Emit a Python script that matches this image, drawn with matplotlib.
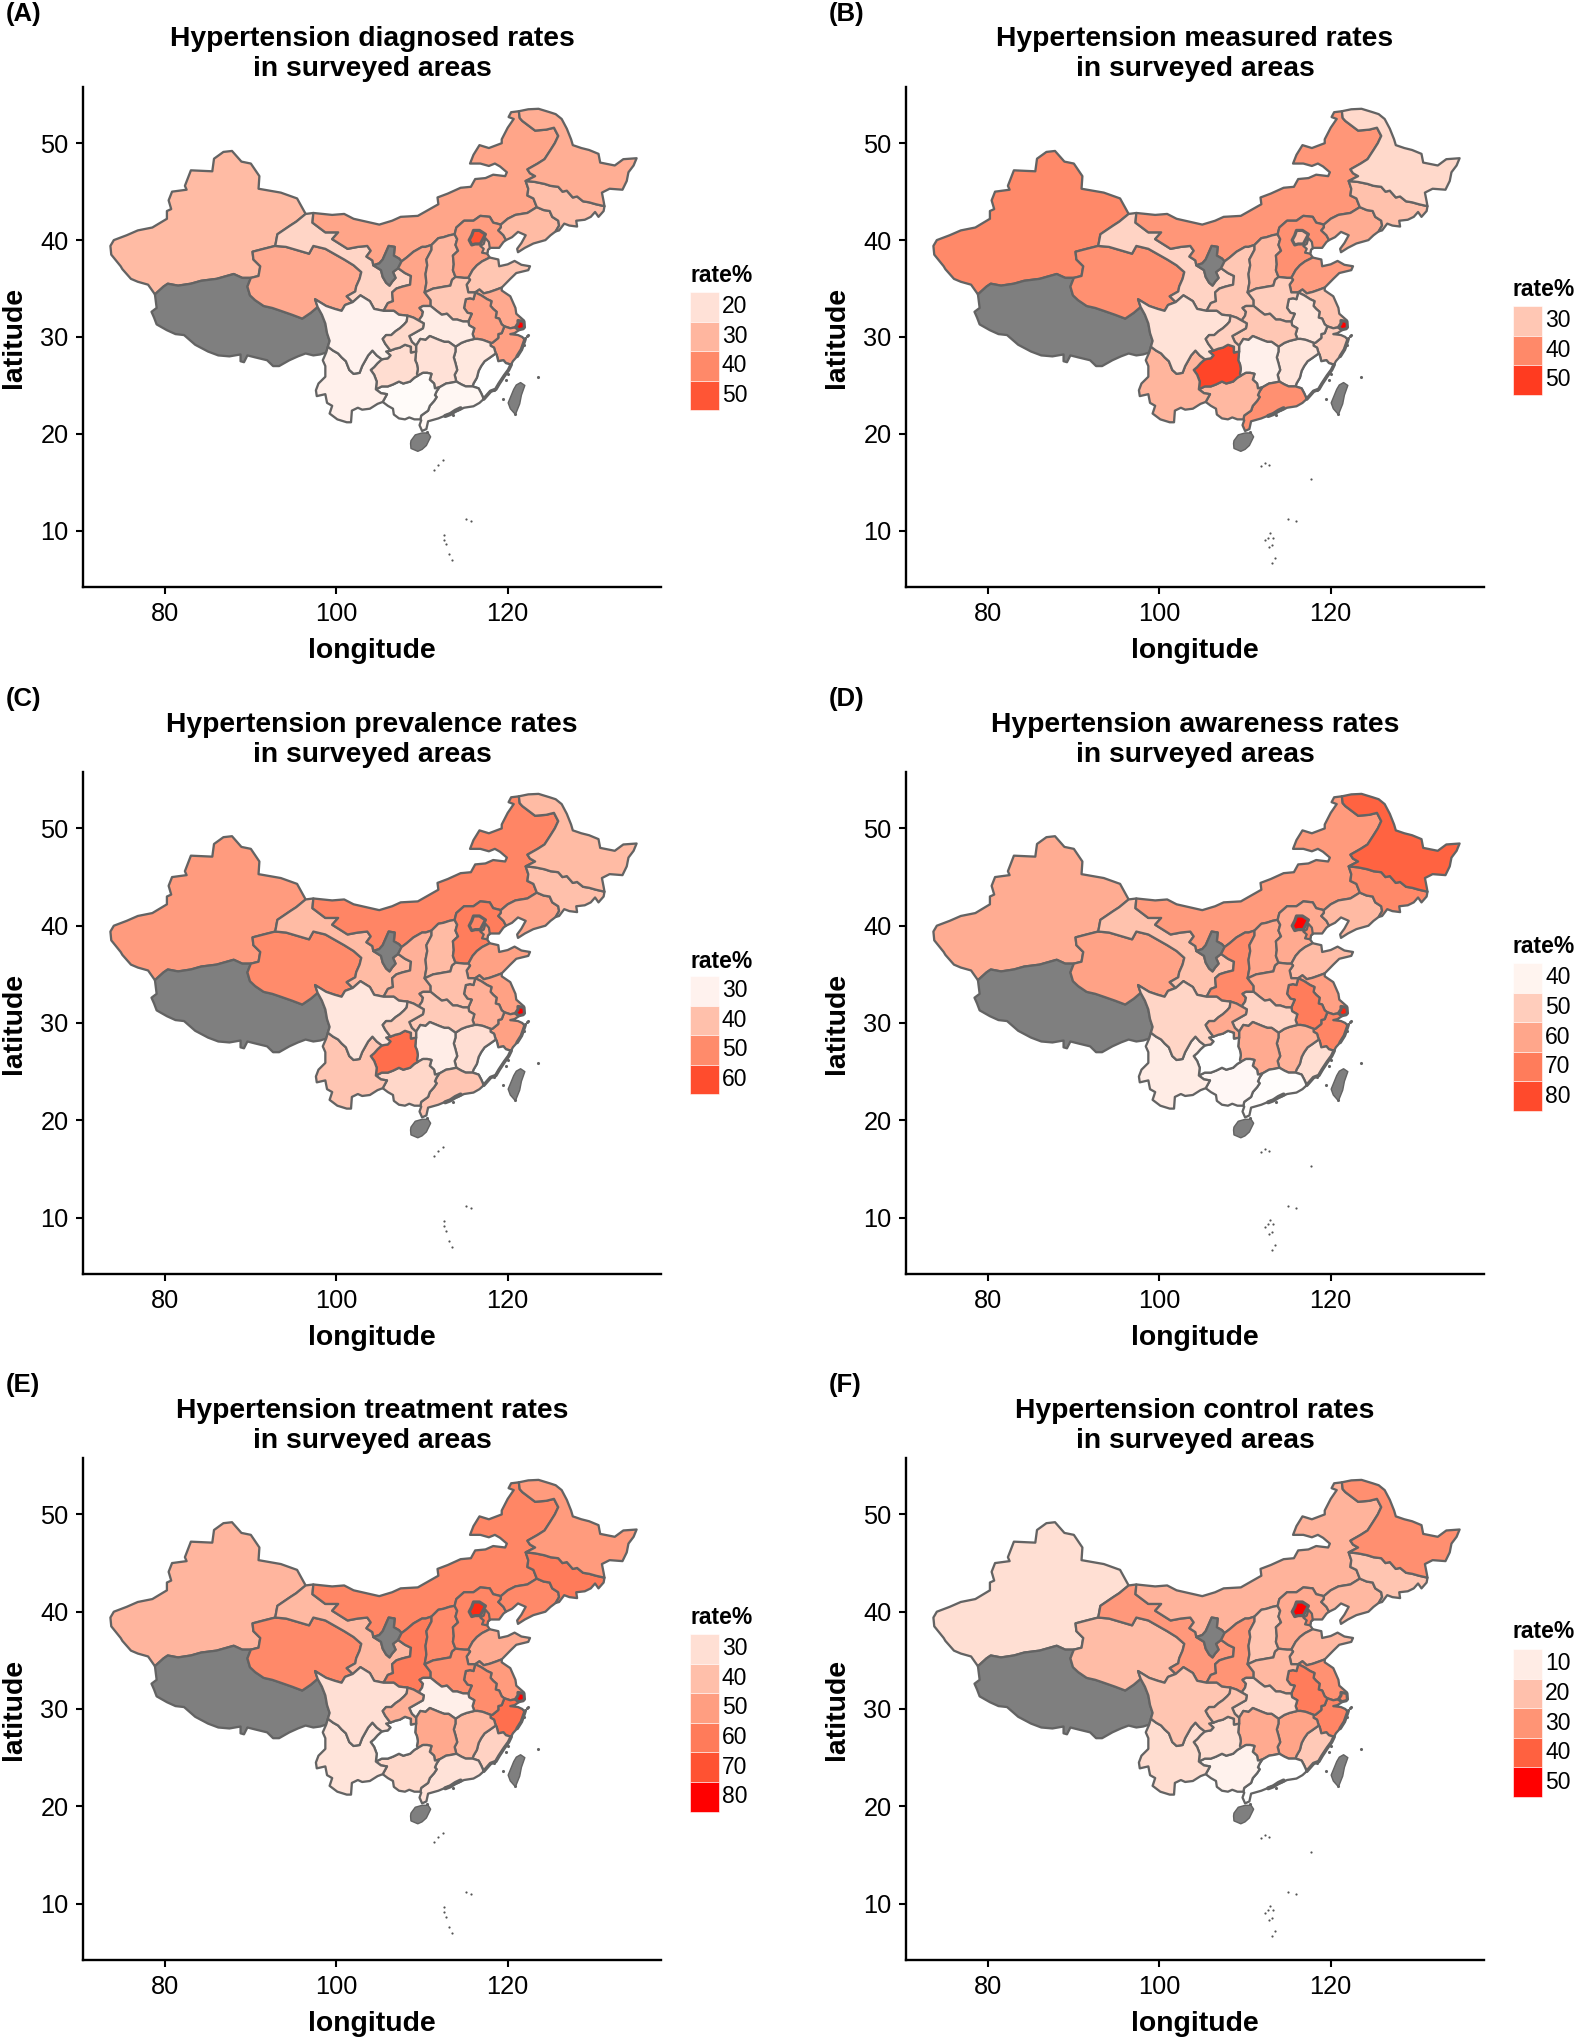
import numpy as np
import matplotlib
matplotlib.use("Agg")
import matplotlib.pyplot as plt
from matplotlib.patches import Polygon, Rectangle

plt.rcParams['font.family'] = ['Liberation Sans', 'DejaVu Sans']

W, H = 1575, 2039
NA = np.nan

# ---------------- map outline data (lon, lat), shared border chains ----------------
CHAINS = {
 'xj_out': [(78.8,34.4),(78.0,35.4),(76.8,35.7),(76.0,36.0),(75.0,37.0),(74.8,37.3),(73.7,38.5),(73.6,39.4),(74.0,40.0),(75.5,40.5),(76.8,41.0),(78.5,41.3),(80.2,42.2),(80.2,43.0),(80.7,43.2),(80.4,44.1),(80.8,45.0),(82.5,45.2),(82.3,45.6),(83.0,47.2),(85.5,47.1),(85.7,48.4),(86.8,49.1),(87.8,49.2),(88.9,48.1),(90.0,47.9),(91.0,46.6),(90.9,45.3),(93.5,44.9),(95.4,44.3),(96.4,42.7)],
 'gs_mn': [(96.4,42.7),(97.3,42.8)],
 'nm_out': [(97.3,42.8),(99.5,42.6),(100.9,42.7),(102.0,42.2),(103.5,41.9),(105.0,41.6),(106.5,42.0),(107.5,42.4),(109.5,42.5),(110.5,43.0),(111.5,43.5),(111.9,43.7),(111.8,44.4),(113.0,44.8),(114.5,45.4),(115.7,45.5),(116.2,46.3),(117.4,46.4),(118.3,46.75),(119.7,46.6),(119.9,47.0),(119.1,47.6),(118.5,47.9),(117.8,47.65),(116.8,47.9),(115.6,47.9),(116.0,48.8),(116.7,49.8),(117.8,49.5),(119.3,50.0),(119.3,50.4),(120.0,51.6),(120.7,52.5),(120.1,52.7),(120.4,53.2),(121.3,53.3)],
 'hl_out': [(121.3,53.3),(122.4,53.5),(123.6,53.55),(124.9,53.2),(125.6,53.0),(126.3,52.5),(126.9,51.5),(127.4,50.4),(127.6,49.8),(128.6,49.5),(129.5,49.3),(130.6,48.9),(130.8,48.0),(132.5,47.7),(133.5,48.35),(135.05,48.45),(134.7,47.7),(134.1,47.0),(133.9,46.1),(133.4,45.2),(131.9,45.3),(131.0,44.9),(131.2,44.0),(131.3,43.5)],
 'jl_out': [(131.3,43.5),(131.2,43.0),(130.6,42.4),(130.2,42.9),(129.7,42.4),(129.0,42.1),(128.0,42.0),(128.1,41.4),(127.2,41.5),(126.6,41.7),(126.0,41.0),(125.6,40.9)],
 'ln_out': [(125.6,40.9),(125.0,40.5),(124.4,40.0),(123.0,39.65),(122.0,39.2),(121.2,38.75),(121.1,39.1),(121.6,39.7),(122.1,40.5),(121.2,40.85),(120.5,40.3),(119.8,40.0)],
 'he_out': [(119.8,40.0),(119.5,39.8),(119.0,39.2),(118.0,39.2),(117.7,39.0),(117.6,38.6),(117.9,38.2)],
 'sd_out': [(117.9,38.2),(118.9,38.0),(119.0,37.3),(120.0,37.5),(120.8,37.85),(121.6,37.45),(122.6,37.3),(122.4,36.9),(121.0,36.6),(120.3,36.0),(119.3,35.1)],
 'js_out': [(119.3,35.1),(119.3,34.8),(120.3,34.2),(120.9,33.0),(121.0,32.4),(121.9,31.7),(121.3,31.3),(120.9,31.0)],
 'js_zj': [(120.9,31.0),(120.3,30.9),(119.6,31.1)],
 'zj_out': [(120.9,31.0),(121.3,30.7),(120.8,30.4),(120.3,30.3),(121.2,30.2),(121.7,30.0),(122.0,29.7),(121.6,28.7),(121.1,28.0),(120.6,27.5),(120.4,27.15)],
 'fj_out': [(120.4,27.15),(120.1,26.6),(119.6,26.0),(119.0,25.2),(118.6,24.6),(118.0,24.4),(117.2,23.6)],
 'gd_out': [(117.2,23.6),(116.7,23.2),(116.0,22.85),(114.9,22.7),(114.2,22.4),(113.6,22.2),(113.0,22.0),(111.9,21.6),(110.7,21.3),(110.5,20.5),(110.0,20.3),(109.7,20.9),(109.9,21.4),(109.8,21.5)],
 'gx_out': [(109.8,21.5),(109.1,21.5),(108.5,21.7),(108.0,21.5),(107.3,21.6),(106.7,22.0),(106.6,22.6),(106.0,22.9),(105.4,23.3)],
 'yn_out': [(98.8,28.4),(98.4,27.6),(98.7,27.0),(98.7,25.9),(97.9,25.2),(97.6,24.5),(97.7,23.9),(98.7,24.1),(98.9,23.2),(99.5,22.9),(99.2,22.1),(100.1,21.5),(101.2,21.2),(101.7,21.2),(101.8,22.4),(102.5,22.7),(103.0,22.5),(103.9,22.6),(104.8,23.1),(105.4,23.3)],
 'xz_out': [(98.8,28.4),(98.1,28.2),(97.3,28.1),(96.4,28.3),(95.5,28.0),(94.5,27.6),(93.3,27.0),(92.6,27.0),(91.9,27.6),(90.5,27.9),(89.6,28.1),(89.2,27.4),(88.8,27.5),(88.8,28.2),(87.5,28.0),(86.2,28.1),(85.0,28.5),(83.5,29.2),(82.2,30.2),(81.2,30.3),(80.2,30.7),(79.0,31.3),(78.7,32.0),(78.4,32.6),(79.0,33.0),(78.8,34.4)],
 'xj_xz': [(78.8,34.4),(79.8,35.2),(80.3,35.5),(81.5,35.3),(83.0,35.5),(84.2,35.8),(86.0,36.0),(88.0,36.5),(89.0,36.1),(90.0,36.1)],
 'xj_qh': [(90.0,36.1),(90.9,36.3),(91.1,37.3),(90.3,38.0),(90.2,38.8),(91.5,39.1),(92.85,39.4)],
 'xj_gs': [(92.85,39.4),(93.1,40.6),(94.6,41.5),(95.3,41.9),(96.4,42.7)],
 'gs_nm': [(97.3,42.8),(97.2,41.8),(98.7,40.8),(100.2,40.8),(99.5,40.1),(101.3,39.1),(102.5,39.3),(103.6,39.4),(104.0,38.9),(103.5,38.3),(104.2,37.9),(104.3,37.4)],
 'nx_nm': [(104.3,37.4),(105.0,37.6),(105.4,38.0),(105.8,38.8),(106.1,39.4),(106.8,39.3),(106.7,38.4),(107.3,38.1),(107.6,37.8)],
 'nx_gs': [(104.3,37.4),(105.2,36.9),(105.4,36.2),(105.8,35.6),(106.2,35.3),(106.5,35.7),(106.9,36.1),(106.6,36.7),(107.2,37.1)],
 'nx_sn': [(107.2,37.1),(107.6,37.8)],
 'gs_sn': [(107.2,37.1),(108.0,36.6),(108.7,36.3),(108.6,35.4),(107.7,35.2),(107.0,35.0),(106.5,34.6),(106.6,33.7),(106.0,33.5),(105.5,32.7)],
 'gs_sc': [(105.5,32.7),(104.4,32.9),(103.9,33.7),(102.8,34.3),(101.9,33.6)],
 'gs_qh': [(92.85,39.4),(94.1,39.3),(96.8,38.6),(97.3,39.4),(98.7,39.1),(100.9,38.0),(102.0,37.4),(102.9,36.7),(102.7,36.0),(102.3,35.2),(102.2,34.7),(101.2,34.2),(101.9,33.6)],
 'qh_sc': [(101.9,33.6),(101.0,33.3),(100.6,32.7),(99.8,32.9),(98.8,33.2),(97.5,33.9),(97.8,33.1)],
 'qh_xz': [(97.8,33.1),(97.0,32.5),(96.0,31.9),(94.8,32.3),(93.5,32.7),(92.5,33.0),(91.5,33.2),(90.5,33.8),(89.9,34.3),(89.6,35.2),(90.0,36.1)],
 'sc_xz': [(97.8,33.1),(98.3,32.3),(98.7,31.4),(98.9,30.4),(99.2,29.6),(99.0,29.0)],
 'xz_yn': [(99.0,29.0),(98.8,28.4)],
 'yn_gx': [(105.4,23.3),(105.9,24.1),(105.2,24.2),(104.6,24.6)],
 'yn_gz': [(104.6,24.6),(104.7,25.4),(104.4,26.1),(104.0,26.6),(104.4,26.9),(104.8,27.3),(105.3,27.7)],
 'yn_sc': [(105.3,27.7),(104.7,28.1),(104.2,28.6),(103.7,28.1),(103.0,27.0),(102.7,26.3),(102.0,26.2),(101.5,26.6),(101.1,27.5),(100.6,27.9),(100.2,28.3),(99.6,28.6),(99.0,29.0)],
 'sc_gz': [(105.3,27.7),(106.0,27.8),(106.3,28.1),(105.8,28.5),(106.3,28.6)],
 'sc_cq': [(106.3,28.6),(105.7,29.3),(105.4,29.8),(105.8,30.2),(106.4,30.2),(106.9,30.6),(107.4,30.9),(107.9,31.3),(108.2,31.6),(108.3,32.2)],
 'sc_sn': [(108.3,32.2),(107.3,32.3),(106.7,32.7),(105.5,32.7)],
 'cq_sn': [(108.3,32.2),(109.0,32.0),(109.6,31.7)],
 'cq_hb': [(109.6,31.7),(110.2,31.4),(110.1,30.9),(109.3,30.5),(108.5,30.1),(108.8,29.5),(109.3,29.1)],
 'cq_hn': [(109.3,29.1),(109.3,28.5)],
 'cq_gz': [(109.3,28.5),(108.7,28.4),(108.7,29.0),(108.0,29.2),(107.4,28.9),(106.9,28.8),(106.3,28.6)],
 'hn_gz': [(109.3,28.5),(109.2,27.6),(109.4,27.2),(109.5,26.7),(109.4,26.2),(109.5,26.0)],
 'gz_gx': [(109.5,26.0),(109.1,25.8),(108.6,25.4),(107.8,25.2),(107.3,25.4),(106.6,25.1),(106.0,24.9),(105.3,24.9),(104.6,24.6)],
 'hn_gx': [(109.5,26.0),(110.1,26.3),(110.6,26.3),(111.1,26.2),(110.9,25.6),(111.4,25.2),(111.5,24.7),(112.0,24.8)],
 'gx_gd': [(112.0,24.8),(111.7,24.4),(111.5,24.0),(111.7,23.8),(111.4,23.4),(110.9,22.9),(110.7,22.4),(109.9,21.9),(109.8,21.5)],
 'gd_hn': [(112.0,24.8),(112.8,25.2),(113.5,25.3),(114.0,25.4)],
 'gd_jx': [(114.0,25.4),(114.6,25.1),(115.1,24.9),(115.9,24.9)],
 'gd_fj': [(115.9,24.9),(116.6,24.7),(116.9,24.2),(117.2,23.6)],
 'hn_jx': [(114.0,25.4),(113.8,26.1),(114.1,26.6),(113.9,27.3),(113.7,27.9),(113.9,28.5),(113.9,29.0)],
 'hn_hb': [(113.9,29.0),(113.1,29.5),(112.6,29.5),(112.0,29.7),(110.9,30.1),(110.4,29.7),(109.8,29.8),(109.3,29.1)],
 'hb_jx': [(113.9,29.0),(114.6,29.4),(115.2,29.6),(116.1,29.8)],
 'hb_ah': [(116.1,29.8),(115.9,30.3),(116.1,30.9),(115.5,31.2),(115.4,31.6)],
 'hb_ha': [(115.4,31.6),(114.8,31.6),(114.1,31.8),(113.6,31.8),(112.9,32.4),(112.3,32.3),(111.7,32.7),(111.0,33.2)],
 'hb_sn': [(111.0,33.2),(110.1,33.2),(109.7,33.0),(110.1,32.6),(110.0,32.2),(109.6,31.7)],
 'ha_sn': [(111.0,33.2),(111.0,33.8),(110.3,34.6)],
 'sx_sn': [(110.3,34.6),(110.5,35.6),(110.4,36.5),(110.6,37.4),(110.5,38.0),(111.1,39.0),(111.1,39.5)],
 'sn_nm': [(111.1,39.5),(110.4,39.3),(110.0,39.3),(109.0,38.8),(108.2,38.2),(107.6,37.8)],
 'sx_nm': [(111.1,39.5),(111.9,40.2),(112.5,40.3),(113.2,40.5),(113.8,40.6)],
 'sx_he': [(113.8,40.6),(114.1,40.1),(113.9,39.5),(114.2,38.9),(113.6,38.4),(113.7,37.5),(113.6,36.9),(113.9,36.2)],
 'sx_ha': [(113.9,36.2),(113.5,35.9),(113.3,35.3),(112.6,35.2),(112.0,35.1),(111.3,35.0),(110.3,34.6)],
 'he_ha': [(113.9,36.2),(114.9,36.1),(115.4,36.1)],
 'he_sd': [(115.4,36.1),(115.9,36.9),(116.4,37.4),(117.0,37.8),(117.9,38.2)],
 'he_ln': [(119.8,40.0),(119.5,40.5),(118.9,41.0),(119.2,41.3),(119.2,41.6)],
 'he_nm': [(119.2,41.6),(118.3,41.8),(117.9,42.4),(116.8,42.5),(116.0,42.0),(114.9,42.0),(114.0,41.3),(113.8,40.6)],
 'ln_nm': [(119.2,41.6),(120.0,42.2),(120.9,42.6),(122.3,42.8),(123.4,43.4)],
 'ln_jl': [(123.4,43.4),(124.2,43.1),(124.9,43.0),(125.2,42.4),(125.9,42.0),(126.0,41.5),(125.6,40.9)],
 'jl_nm': [(122.1,46.1),(122.4,45.3),(122.3,44.6),(123.0,44.3),(123.4,43.4)],
 'jl_hl': [(122.1,46.1),(123.2,46.0),(124.3,45.8),(125.0,45.6),(125.9,45.5),(126.4,45.0),(126.9,45.1),(127.6,44.4),(128.1,44.5),(128.8,44.0),(129.5,43.9),(130.3,43.7),(131.3,43.5)],
 'hl_nm': [(121.3,53.3),(121.4,52.6),(121.7,52.3),(123.2,51.3),(124.5,51.4),(125.4,51.6),(125.9,50.75),(125.5,50.0),(125.0,49.3),(124.3,48.35),(123.5,47.9),(122.3,47.3),(122.6,46.9),(123.2,46.6),(122.1,46.1)],
 'sd_js': [(119.3,35.1),(118.7,34.9),(117.9,34.65),(117.2,34.5),(116.7,34.9),(116.2,34.6)],
 'sd_ha': [(116.2,34.6),(115.4,34.6),(115.2,35.4),(115.6,35.9),(115.4,36.1)],
 'ha_ah': [(116.2,34.6),(116.0,33.9),(115.6,34.0),(115.1,33.9),(114.9,33.0),(115.3,32.5),(115.8,32.4),(115.4,31.6)],
 'ah_js': [(116.2,34.6),(116.9,34.3),(117.6,33.9),(118.1,33.7),(118.0,33.2),(118.3,32.9),(118.7,32.6),(118.6,32.0),(119.0,31.9),(119.3,31.3),(119.6,31.1)],
 'ah_zj': [(119.6,31.1),(119.3,30.4),(118.9,30.3),(118.9,29.9),(118.2,29.4),(118.0,29.4)],
 'ah_jx': [(118.0,29.4),(117.1,29.7),(116.5,29.8),(116.1,29.8)],
 'zj_fj': [(120.4,27.15),(119.8,27.3),(119.5,27.6),(118.9,27.5),(118.7,28.2),(118.6,28.3)],
 'zj_jx': [(118.6,28.3),(118.4,28.9),(118.0,29.1),(118.0,29.4)],
 'fj_jx': [(118.6,28.3),(117.8,27.8),(117.3,27.5),(116.9,27.0),(116.6,26.5),(116.4,25.8),(116.0,25.2),(115.9,24.9)],
}

PROVINCE_CHAINS = {
 'XJ': ['xj_out','-xj_gs','-xj_qh','-xj_xz'],
 'XZ': ['xj_xz','-qh_xz','sc_xz','xz_yn','xz_out'],
 'QH': ['xj_qh','gs_qh','qh_sc','qh_xz'],
 'GS': ['xj_gs','gs_mn','gs_nm','nx_gs','gs_sn','gs_sc','-gs_qh'],
 'NM': ['nm_out','hl_nm','jl_nm','-ln_nm','he_nm','-sx_nm','sn_nm','-nx_nm','-gs_nm'],
 'NX': ['nx_nm','-nx_sn','-nx_gs'],
 'SN': ['-sn_nm','-sx_sn','-ha_sn','hb_sn','-cq_sn','sc_sn','-gs_sn','nx_sn'],
 'SX': ['sx_sn','sx_nm','sx_he','sx_ha'],
 'HE': ['-he_nm','-he_ln','he_out','-he_sd','-he_ha','-sx_he'],
 'LN': ['ln_nm','ln_jl','ln_out','he_ln'],
 'JL': ['-jl_nm','jl_hl','jl_out','-ln_jl'],
 'HL': ['hl_out','-jl_hl','-hl_nm'],
 'SD': ['sd_out','sd_js','sd_ha','he_sd'],
 'JS': ['-sd_js','js_out','js_zj','-ah_js'],
 'ZJ': ['-js_zj','zj_out','zj_fj','zj_jx','-ah_zj'],
 'AH': ['ah_js','ah_zj','ah_jx','hb_ah','-ha_ah'],
 'FJ': ['-zj_fj','fj_out','-gd_fj','-fj_jx'],
 'JX': ['-zj_jx','fj_jx','-gd_jx','hn_jx','hb_jx','-ah_jx'],
 'HA': ['-sx_ha','he_ha','-sd_ha','ha_ah','hb_ha','ha_sn'],
 'HB': ['-hb_sn','-hb_ha','-hb_ah','-hb_jx','hn_hb','-cq_hb'],
 'HN': ['-hn_hb','-hn_jx','-gd_hn','-hn_gx','-hn_gz','-cq_hn'],
 'GD': ['gd_hn','gd_jx','gd_fj','gd_out','-gx_gd'],
 'GX': ['hn_gx','gx_gd','gx_out','yn_gx','-gz_gx'],
 'GZ': ['gz_gx','yn_gz','sc_gz','-cq_gz','hn_gz'],
 'YN': ['yn_out','yn_gx','yn_gz','yn_sc','xz_yn'],
 'SC': ['-sc_xz','-qh_sc','-gs_sc','-sc_sn','-sc_cq','-sc_gz','yn_sc'],
 'CQ': ['sc_cq','cq_sn','cq_hb','cq_hn','cq_gz'],
}

# Provinces enclosed by or lying on top of the others, and islands
EXTRA_OUTLINES = {
 'TJ': [(117.6,38.6),(117.0,38.7),(117.2,39.1),(116.8,39.4),(117.2,39.6),(117.4,40.2),(117.8,39.8),(117.9,39.2),(117.7,39.0)],
 'BJ': [(116.0,41.0),(116.7,41.0),(117.4,40.6),(117.1,40.1),(116.8,39.6),(116.2,39.6),(115.8,39.5),(115.5,40.0),(115.8,40.5)],
 'SH': [(121.2,31.7),(121.9,31.6),(121.95,31.0),(121.8,30.85),(121.3,30.75),(120.9,31.0),(121.2,31.4)],
 'HI': [(108.7,19.3),(109.2,19.9),(110.0,20.1),(110.7,20.1),(111.0,19.7),(110.5,18.8),(110.0,18.4),(109.5,18.2),(108.7,18.5),(108.65,19.0)],
 'TW': [(121.5,25.3),(122.0,25.0),(121.6,24.0),(121.4,23.1),(120.9,22.0),(120.3,22.6),(120.05,23.2),(120.7,24.6),(121.0,25.05)],
}
THICK_COAST_PART = [(122.0,29.7),(121.6,28.7),(121.1,28.0)]
PEARL_DELTA = [(114.5,22.65),(113.9,22.4),(113.3,22.05),(112.7,21.85)]
COAST_ISLES = [(122.2,30.1),(122.35,30.25),(122.05,29.85),(121.95,29.2),(120.0,26.2),(119.8,25.55),(118.4,24.5),(119.5,23.6),(123.5,25.9),(120.9,22.1),(113.6,21.9),(110.6,20.2)]
DOTS_ACE = [(112.4,17.3),(111.9,16.8),(111.4,16.3),(115.1,11.2),(115.7,11.0),(112.6,9.6),(112.5,9.1),(112.8,8.6),(113.2,7.6),(113.5,7.0)]
DOTS_BDF = [(111.8,16.7),(112.3,17.0),(112.8,16.8),(117.7,15.3),(115.0,11.2),(115.9,11.0),(112.9,9.8),(112.3,9.0),(112.7,9.3),(113.3,9.3),(113.1,8.5),(112.8,8.3),(113.5,7.2),(113.2,6.7)]

# ---------------- chart values (rate %) ----------------
PROVINCES = ['XJ','XZ','QH','GS','NM','NX','SN','SX','HE','LN','JL','HL','SD','JS','ZJ','AH','FJ','JX','HA','HB','HN','GD','GX','GZ','YN','SC','CQ','TJ','BJ','SH','HI','TW']
diagnosed  = [29,NA,33,23,34,NA,34,30,36,29,28,32,26.5,33,35,35,13,18.5,26,17.5,20,15,14,21,16.5,16,22,26,50,58,NA,NA]
measured   = [40,NA,39,28,38,NA,30,32.5,39,34.5,31,27,37,30.5,29,25,20.5,25,29,30,23,39,32.5,49,33,25.5,28.5,28,31,53,NA,NA]
prevalence = [47,NA,50,41,51,NA,43,41,52.5,45,40,41,46,46,46,43,27.5,34,40,38,31,39,35.5,55,39,32.5,37.5,46,51,65.5,NA,NA]
awareness  = [58.5,NA,61,53,63,NA,67,60,59,55,67,75.5,54.5,61.5,68,70,45.5,57,59,48.5,59,37.5,39,37,42,48,59,67,87,85,NA,NA]
treatment  = [43,NA,56,42,57,NA,60,56,57,56,60,51,46,51,63,55,34,42,55,25,47,29,32,20,28.5,30,44.5,60,77,80,NA,NA]
control    = [13,NA,21,29,23,NA,30,19,25,22,19,31,22,30.5,33,35,18,26.5,22,15,25,5.5,8.5,13,13.5,19,19,34,50,32,NA,NA]

PANEL_LETTERS = ['(A)','(B)','(C)','(D)','(E)','(F)']
PANEL_WORDS = ['diagnosed','measured','prevalence','awareness','treatment','control']
PANEL_VALUES = [diagnosed, measured, prevalence, awareness, treatment, control]
PANEL_LIMITS = [(13,58),(20.5,53),(27.5,65.5),(37,87),(20,80),(5.5,50)]
LEGEND_BREAKS = [[20,30,40,50],[30,40,50],[30,40,50,60],[40,50,60,70,80],[30,40,50,60,70,80],[10,20,30,40,50]]
LEGEND_TOP = [292,306,976,963,1634,1649]
LEGEND_TITLE_Y = [276,290,961,946,1617,1632]

X_TICKS = [80,100,120]
Y_TICKS = [10,20,30,40,50]
XLIM = (70.4,137.9)
YLIM = (4.2,55.8)
COL_LEFT = [83,906]
ROW_TOP = [87,772,1458]
ROW_BOTTOM = [587,1274,1960]
AX_W = 578

BORDER = '#636363'
MISSING = '#7F7F7F'


def lab_gradient(t):
    """White-to-red gradient in Lab space (as ggplot2's scale_fill_gradient)."""
    t = float(np.clip(t, 0, 1))
    L, a, b = 100 + t*(53.24-100), t*80.09, t*67.20
    fy_ = (L+16)/116; fx_ = fy_ + a/500; fz_ = fy_ - b/200
    def finv(v):
        return v**3 if v > 6/29 else 3*(6/29)**2*(v-4/29)
    X, Y, Z = 0.95047*finv(fx_), finv(fy_), 1.08883*finv(fz_)
    r =  3.2406*X - 1.5372*Y - 0.4986*Z
    g = -0.9689*X + 1.8758*Y + 0.0415*Z
    bb = 0.0557*X - 0.2040*Y + 1.0570*Z
    def gam(c):
        c = min(max(c, 0), 1)
        return 12.92*c if c <= 0.0031308 else 1.055*c**(1/2.4)-0.055
    return (gam(r), gam(g), gam(bb))


def outline(name):
    pts = []
    for c in PROVINCE_CHAINS[name]:
        seg = CHAINS[c[1:]][::-1] if c.startswith('-') else CHAINS[c]
        pts.extend(seg)
    return pts


fig = plt.figure(figsize=(W/100, H/100), dpi=100, facecolor='white')


def fx(px):
    return px / W


def fy(py):
    return 1 - py / H


for i in range(6):
    col, row = i % 2, i // 2
    left, top, bottom = COL_LEFT[col], ROW_TOP[row], ROW_BOTTOM[row]
    ax = fig.add_axes([fx(left), fy(bottom), AX_W/W, (bottom-top)/H])
    lo, hi = PANEL_LIMITS[i]
    scale = lambda v: lab_gradient((v-lo)/(hi-lo))
    for name, val in zip(PROVINCES, PANEL_VALUES[i]):
        fc = MISSING if np.isnan(val) else scale(val)
        if name in PROVINCE_CHAINS:
            pts = outline(name); lw, z = 1.65, 2
        else:
            pts = EXTRA_OUTLINES[name]
            lw, z = (2.3, 4) if name in ('BJ','SH') else (1.6, 3)
            if name in ('HI','TW'):
                lw = 1.0
        ax.add_patch(Polygon(pts, closed=True, fc=fc, ec=BORDER, lw=lw, zorder=z, joinstyle='round'))
    for pts, lw in ((CHAINS['fj_out'],2.6),(THICK_COAST_PART,2.6),(PEARL_DELTA,3.0)):
        a = np.array(pts)
        ax.plot(a[:,0], a[:,1], color=BORDER, lw=lw, zorder=3.5, solid_capstyle='round')
    a = np.array(COAST_ISLES)
    ax.scatter(a[:,0], a[:,1], s=5, marker='o', color=BORDER, lw=0, zorder=3)
    a = np.array(DOTS_ACE if col == 0 else DOTS_BDF)
    ax.scatter(a[:,0], a[:,1], s=2.5, marker='o', color='#555555', lw=0, zorder=3)

    ax.set_xlim(*XLIM); ax.set_ylim(*YLIM)
    ax.set_xticks(X_TICKS); ax.set_yticks(Y_TICKS)
    for s in ('top','right'):
        ax.spines[s].set_visible(False)
    for s in ('left','bottom'):
        ax.spines[s].set_linewidth(1.7)
    ax.tick_params(length=5, width=1.5, labelsize=18.3, pad=5.5, color='black', labelcolor='black')

    fig.text(fx(left+AX_W/2), fy(top-32.5), f'Hypertension {PANEL_WORDS[i]} rates\nin surveyed areas',
             ha='center', va='center', fontsize=20.3, fontweight='bold', linespacing=1.2)
    fig.text(fx(left-77), fy(top-73), PANEL_LETTERS[i], ha='left', va='center', fontsize=18.5, fontweight='bold')
    fig.text(fx(left+AX_W/2), fy(bottom+64), 'longitude', ha='center', va='center', fontsize=20.4, fontweight='bold')
    fig.text(fx(left-69), fy((top+bottom)/2), 'latitude', ha='center', va='center', rotation=90, fontsize=20.4, fontweight='bold')

    lx = left + 607
    fig.text(fx(lx), fy(LEGEND_TITLE_Y[i]), 'rate%', ha='left', va='center', fontsize=16.5, fontweight='bold')
    for k, br in enumerate(LEGEND_BREAKS[i]):
        y0 = LEGEND_TOP[i] + k*29.6
        fig.add_artist(Rectangle((fx(lx), fy(y0+29.6)), 29/W, 29.6/H, transform=fig.transFigure,
                                 fc=scale(br), ec='white', lw=0.4))
        fig.text(fx(lx+32), fy(y0+14.8), str(br), ha='left', va='center', fontsize=16.5)

fig.savefig('out.png', dpi=100, facecolor='white')
